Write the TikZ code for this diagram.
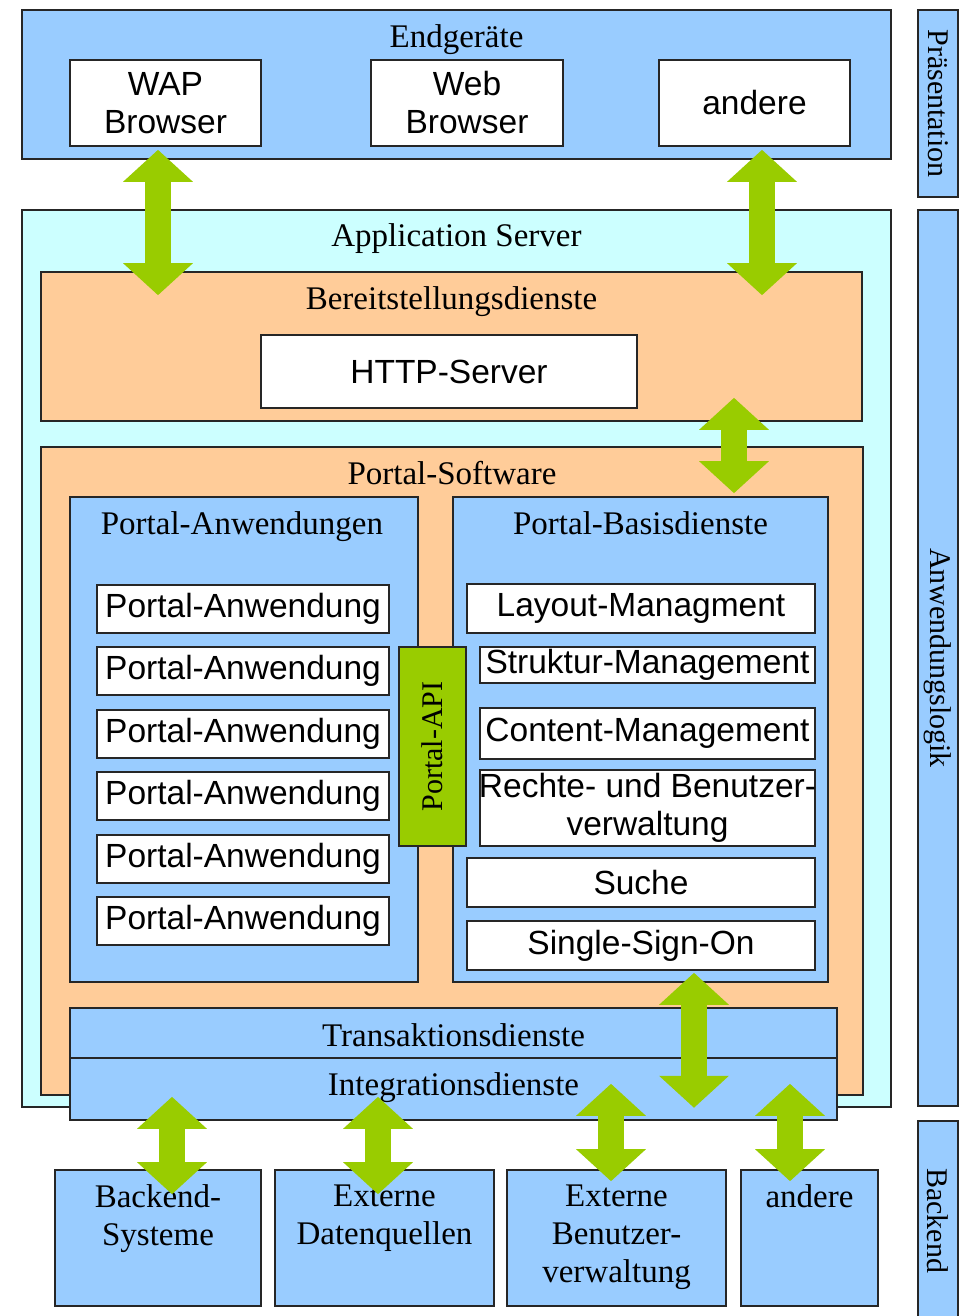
\documentclass[tikz,border=0pt]{standalone}
\usepackage{fontspec}
\setmainfont{Liberation Serif}
\newfontfamily\sansfont{Liberation Sans}
\usetikzlibrary{positioning,fit,calc,arrows.meta}

\definecolor{schichtblau}{HTML}{99CCFF}
\definecolor{servercyan}{HTML}{CCFFFF}
\definecolor{dienstorange}{HTML}{FFCC99}
\definecolor{pfeilgruen}{HTML}{99CC00}

\begin{document}
\begin{tikzpicture}[
       x=0.5pt, y=-0.5pt,
       rahmen/.style={draw=black!85, line width=0.8pt, inner sep=0pt},
       schicht/.style={rahmen, fill=schichtblau},
       server/.style={rahmen, fill=servercyan},
       dienst/.style={rahmen, fill=dienstorange},
       modul/.style={rahmen, fill=white},
       modultext/.style={inner sep=0pt, font=\sansfont\fontsize{16.75}{19}\selectfont, align=center},
       titel/.style={inner sep=0pt, font=\fontsize{16.5}{19}\selectfont, align=center, anchor=base},
       seite/.style={inner sep=0pt, font=\fontsize{15}{18}\selectfont},
       pfeil/.style={draw=pfeilgruen, line width=13pt,
               {Triangle[width=34pt,length=16pt]}-{Triangle[width=34pt,length=16pt]}},
       ]
       \useasboundingbox[fill=white] (0,0) rectangle (960,1316);

       % Praesentation
       \node[schicht, fit={(22,10)(891,159)}] (endg) {};
       \node[titel] (endgT) at ($(endg.north)+(0,38)$) {Endgeräte};
       \node[modul, fit={(70,60)(261,146)}] (wap) {};
       \node[modultext] (wapT) at (wap.center) {WAP\\Browser};
       \node[modul, fit={(371,60)(563,146)}] (web) {};
       \node[modultext] (webT) at (web.center) {Web\\Browser};
       \node[modul, fit={(659,60)(850,146)}] (andereE) {};
       \node[modultext] (andereET) at (andereE.center) {andere};

       % Seitenleiste
       \node[schicht, fit={(918,10)(958,197)}] (praes) {};
       \node[seite, rotate=-90] (praesT) at (praes.center) {Präsentation};
       \node[schicht, fit={(918,210)(958,1106)}] (logik) {};
       \node[seite, rotate=-90] (logikT) at (logik.center) {Anwendungslogik};
       \node[schicht, fit={(918,1121)(958,1320)}] (backend) {};
       \node[seite, rotate=-90] (backendT) at (backend.center) {Backend};

       % Anwendungslogik
       \node[server, fit={(22,210)(891,1107)}] (appsrv) {};
       \node[titel] (appsrvT) at ($(appsrv.north)+(0,37)$) {Application Server};
       \node[dienst, fit={(41,272)(862,421)}] (bereit) {};
       \node[titel] (bereitT) at ($(bereit.north)+(0,38)$) {Bereitstellungsdienste};
       \node[modul, fit={(261,335)(637,408)}] (http) {};
       \node[modultext] (httpT) at (http.center) {HTTP-Server};

       \node[dienst, fit={(41,447)(863,1095)}] (portalsw) {};
       \node[titel] (portalswT) at ($(portalsw.north)+(0,38)$) {Portal-Software};
       \node[schicht, fit={(70,497)(418,982)}] (anw) {};
       \node[titel] (anwT) at ($(anw.north)+(-2,38)$) {Portal-Anwendungen};
       \node[schicht, fit={(453,497)(828,982)}] (basis) {};
       \node[titel] (basisT) at ($(basis.north)+(0,38)$) {Portal-Basisdienste};

       \foreach \i/\y in {1/585,2/647,3/710,4/772,5/835,6/897}{
               \node[modul, fit={(97,\y)(389,\y+48)}] (pa\i) {};
               \node[modultext] (pa\i T) at (pa\i.center) {Portal-Anwendung};
       }

       \node[rahmen, fill=pfeilgruen, fit={(399,647)(466,846)}] (api) {};
       \node[seite, rotate=90] (apiT) at (api.center) {Portal-API};

       \node[modul, fit={(467,584)(815,633)}] (layout) {};
       \node[modultext] (layoutT) at (layout.center) {Layout-Managment};
       \node[modul, fit={(480,647)(815,683)}] (struktur) {};
       \node[modultext] (strukturT) at (struktur.center) {Struktur-Management};
       \node[modul, fit={(480,708)(815,759)}] (content) {};
       \node[modultext] (contentT) at (content.center) {Content-Management};
       \node[modul, fit={(480,770)(815,846)}] (rechte) {};
       \node[modultext] (rechteT) at (rechte.center) {Rechte- und Benutzer-\\verwaltung};
       \node[modul, fit={(467,858)(815,907)}] (suche) {};
       \node[modultext] (sucheT) at (suche.center) {Suche};
       \node[modul, fit={(467,921)(815,970)}] (sso) {};
       \node[modultext] (ssoT) at (sso.center) {Single-Sign-On};

       \node[schicht, fit={(70,1008)(837,1058)}] (trans) {};
       \node[titel] (transT) at ($(trans.center)+(0,13)$) {Transaktionsdienste};
       \node[schicht, fit={(70,1058)(837,1120)}] (integ) {};
       \node[titel] (integT) at ($(integ.north)+(0,38)$) {Integrationsdienste};

       % Backend
       \node[schicht, fit={(55,1170)(261,1306)}] (besys) {};
       \node[titel, anchor=north] (besysT) at ($(besys.north)+(0,15)$) {Backend-\\Systeme};
       \node[schicht, fit={(275,1170)(494,1306)}] (datq) {};
       \node[titel, anchor=north] (datqT) at ($(datq.north)+(0,15)$) {Externe\\Datenquellen};
       \node[schicht, fit={(507,1170)(726,1306)}] (benv) {};
       \node[titel, anchor=north] (benvT) at ($(benv.north)+(0,15)$) {Externe\\Benutzer-\\verwaltung};
       \node[schicht, fit={(741,1170)(878,1306)}] (andereB) {};
       \node[titel, anchor=north] (andereBT) at ($(andereB.north)+(0,15)$) {andere};

       % Pfeile
       \begin{scope}[every path/.style=pfeil]
       \path ($(wap.south)+(-7.5,3)$) -- ($(wap.south |- bereit.north)+(-7.5,24)$);
       \path ($(andereE.south)+(7.5,3)$) -- ($(andereE.south |- bereit.north)+(7.5,24)$);
       \path ($(basis.north |- bereit.south)+(93.5,-24)$) -- ($(basis.north)+(93.5,-3)$);
       \path ($(basis.south)+(53.5,-10)$) -- ($(basis.south |- integ.south)+(53.5,-13)$);
       \path ($(besys.north |- integ.south)+(14,-24)$) -- ($(besys.north)+(14,25)$);
       \path ($(datq.north |- integ.south)+(-6.5,-24)$) -- ($(datq.north)+(-6.5,25)$);
       \path ($(benv.north |- integ.south)+(-5.5,-37)$) -- ($(benv.north)+(-5.5,12)$);
       \path ($(andereB.north |- integ.south)+(-19.5,-37)$) -- ($(andereB.north)+(-19.5,12)$);
       \end{scope}
\end{tikzpicture}
\end{document}
